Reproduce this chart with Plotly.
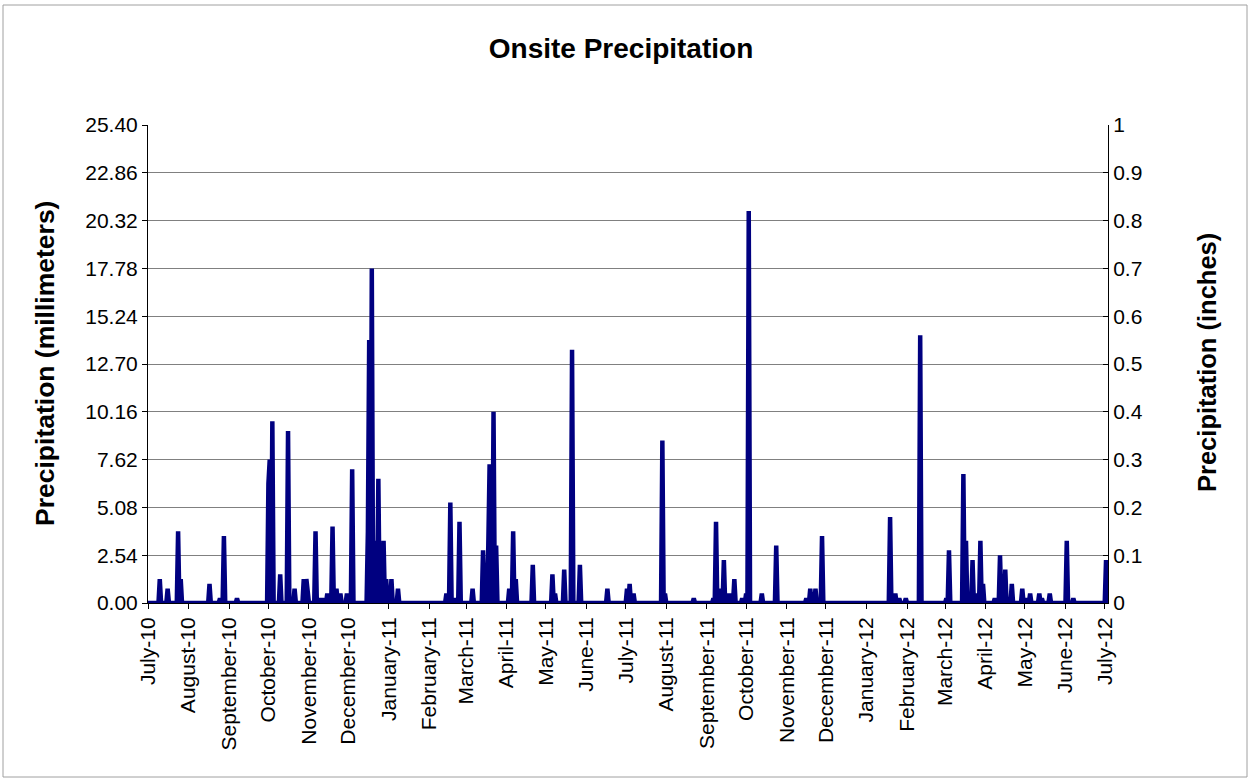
import pandas as pd
import plotly.graph_objects as go

# ---- data ----
start_date = "2010-07-01"
end_date = "2012-07-03"

rain_dates = [
    "2010-07-10", "2010-07-16", "2010-07-24", "2010-07-26", "2010-08-17", "2010-08-25",
    "2010-08-28", "2010-09-07", "2010-10-01", "2010-10-02", "2010-10-04", "2010-10-10",
    "2010-10-16", "2010-10-21", "2010-10-28", "2010-10-30", "2010-10-31", "2010-11-06",
    "2010-11-09", "2010-11-11", "2010-11-15", "2010-11-19", "2010-11-22", "2010-11-25",
    "2010-11-30", "2010-12-04", "2010-12-16", "2010-12-17", "2010-12-19", "2010-12-22",
    "2010-12-24", "2010-12-28", "2010-12-30", "2011-01-03", "2011-01-08", "2011-02-14",
    "2011-02-17", "2011-02-19", "2011-02-21", "2011-02-24", "2011-03-06", "2011-03-14",
    "2011-03-18", "2011-03-19", "2011-03-22", "2011-03-24", "2011-04-03", "2011-04-06",
    "2011-04-08", "2011-04-21", "2011-05-06", "2011-05-08", "2011-05-15", "2011-05-21",
    "2011-05-27", "2011-06-17", "2011-07-02", "2011-07-04", "2011-07-07", "2011-07-29",
    "2011-07-31", "2011-08-22", "2011-09-06", "2011-09-08", "2011-09-11", "2011-09-14",
    "2011-09-17", "2011-09-20", "2011-09-22", "2011-09-28", "2011-10-01", "2011-10-03",
    "2011-10-13", "2011-10-24", "2011-11-16", "2011-11-19", "2011-11-23", "2011-11-28",
    "2012-01-19", "2012-01-23", "2012-01-26", "2012-01-31", "2012-02-11", "2012-03-02",
    "2012-03-04", "2012-03-15", "2012-03-17", "2012-03-22", "2012-03-24", "2012-03-26",
    "2012-03-28", "2012-03-30", "2012-04-08", "2012-04-12", "2012-04-16", "2012-04-21",
    "2012-04-29", "2012-05-02", "2012-05-05", "2012-05-12", "2012-05-14", "2012-05-20",
    "2012-06-02", "2012-06-07", "2012-07-02",
]

rain_inches = [
    0.05, 0.03, 0.15, 0.05, 0.04, 0.01,
    0.14, 0.01, 0.25, 0.30, 0.38, 0.06,
    0.36, 0.03, 0.05, 0.05, 0.02, 0.15,
    0.01, 0.01, 0.02, 0.16, 0.03, 0.02,
    0.02, 0.28, 0.15, 0.55, 0.70, 0.13,
    0.26, 0.13, 0.05, 0.05, 0.03, 0.02,
    0.21, 0.01, 0.01, 0.17, 0.03, 0.11,
    0.12, 0.29, 0.40, 0.12, 0.03, 0.15,
    0.05, 0.08, 0.06, 0.02, 0.07, 0.53,
    0.08, 0.03, 0.03, 0.04, 0.02, 0.34,
    0.02, 0.01, 0.01, 0.17, 0.03, 0.09,
    0.02, 0.02, 0.05, 0.01, 0.02, 0.82,
    0.02, 0.12, 0.01, 0.03, 0.03, 0.14,
    0.18, 0.02, 0.01, 0.01, 0.56, 0.01,
    0.11, 0.27, 0.13, 0.09, 0.02, 0.02,
    0.13, 0.04, 0.01, 0.10, 0.07, 0.04,
    0.03, 0.01, 0.02, 0.02, 0.01, 0.02,
    0.13, 0.01, 0.09,
]

mm_ticks = [0.00, 2.54, 5.08, 7.62, 10.16, 12.70, 15.24, 17.78, 20.32, 22.86, 25.40]
inch_ticks = [0, 0.1, 0.2, 0.3, 0.4, 0.5, 0.6, 0.7, 0.8, 0.9, 1]

# ---- build daily series (days without rain are zero) ----
days = pd.date_range(start_date, end_date, freq="D")
daily_in = pd.Series(0.0, index=days)
daily_in.loc[pd.to_datetime(rain_dates)] = rain_inches
daily_mm = daily_in * 25.4

FONT = "Arial, Liberation Sans, sans-serif"
NAVY = "#000080"
TICK = 21

# plot area in page pixels
L, R, T, B = 148, 1108, 125, 603
W, H = 1251, 781
PW, PH = R - L, B - T

fig = go.Figure()
fig.add_trace(go.Scatter(
    x=days, y=daily_mm, mode="lines",
    line=dict(color=NAVY, width=4.5),
    name="Precipitation (mm)", showlegend=False,
))
fig.add_trace(go.Scatter(
    x=days, y=daily_in, mode="lines", yaxis="y2",
    line=dict(color="rgba(0,0,0,0)", width=0),
    name="Precipitation (in)", showlegend=False, hoverinfo="skip",
))

fig.update_layout(
    width=W, height=H,
    margin=dict(l=L, r=W - R, t=T, b=H - B, pad=0),
    paper_bgcolor="white", plot_bgcolor="white",
    font=dict(family=FONT, size=TICK, color="black"),
    title=dict(text="<b>Onsite Precipitation</b>", x=621 / W, xref="container",
               xanchor="center", y=1 - 48 / H, yanchor="middle",
               font=dict(family=FONT, size=28, color="black")),
    xaxis=dict(
        type="date", range=[start_date, "2012-07-03 12:00"],
        tick0=start_date, dtick="M1", tickformat="%B-%y", tickangle=-90,
        ticks="outside", ticklen=5, tickcolor="black",
        showline=True, linecolor="black", linewidth=1,
        showgrid=False, zeroline=False,
        tickfont=dict(family=FONT, size=TICK),
    ),
    yaxis=dict(
        range=[0, 25.4], tickvals=mm_ticks, tickformat=".2f",
        ticks="outside", ticklen=5, tickcolor="black",
        showline=True, linecolor="black", linewidth=1,
        showgrid=True, gridcolor="#808080", gridwidth=1, zeroline=False,
        tickfont=dict(family=FONT, size=TICK),
    ),
    yaxis2=dict(
        range=[0, 1], tickvals=inch_ticks, overlaying="y", side="right",
        ticks="inside", ticklen=5, tickcolor="black",
        showline=True, linecolor="black", linewidth=1,
        showgrid=False, zeroline=False,
        tickfont=dict(family=FONT, size=TICK),
    ),
    annotations=[
        dict(text="<b>Precipitation (millimeters)</b>", xref="paper", yref="paper",
             x=(45 - L) / PW, y=(B - 364) / PH, textangle=-90, showarrow=False,
             xanchor="center", yanchor="middle", font=dict(family=FONT, size=26.5)),
        dict(text="<b>Precipitation (inches)</b>", xref="paper", yref="paper",
             x=(1207 - L) / PW, y=(B - 363) / PH, textangle=-90, showarrow=False,
             xanchor="center", yanchor="middle", font=dict(family=FONT, size=25.5)),
    ],
    shapes=[
        dict(type="rect", xref="paper", yref="paper",
             x0=(3 - L) / PW, x1=(1247 - L) / PW,
             y0=(B - 777) / PH, y1=(B - 5) / PH,
             line=dict(color="#A0A0A0", width=1), fillcolor="rgba(0,0,0,0)"),
    ],
)

fig.write_html(
    "out.html",
    config={"displayModeBar": False},
    post_script="document.body.style.margin='0';document.body.style.overflow='hidden';",
)
